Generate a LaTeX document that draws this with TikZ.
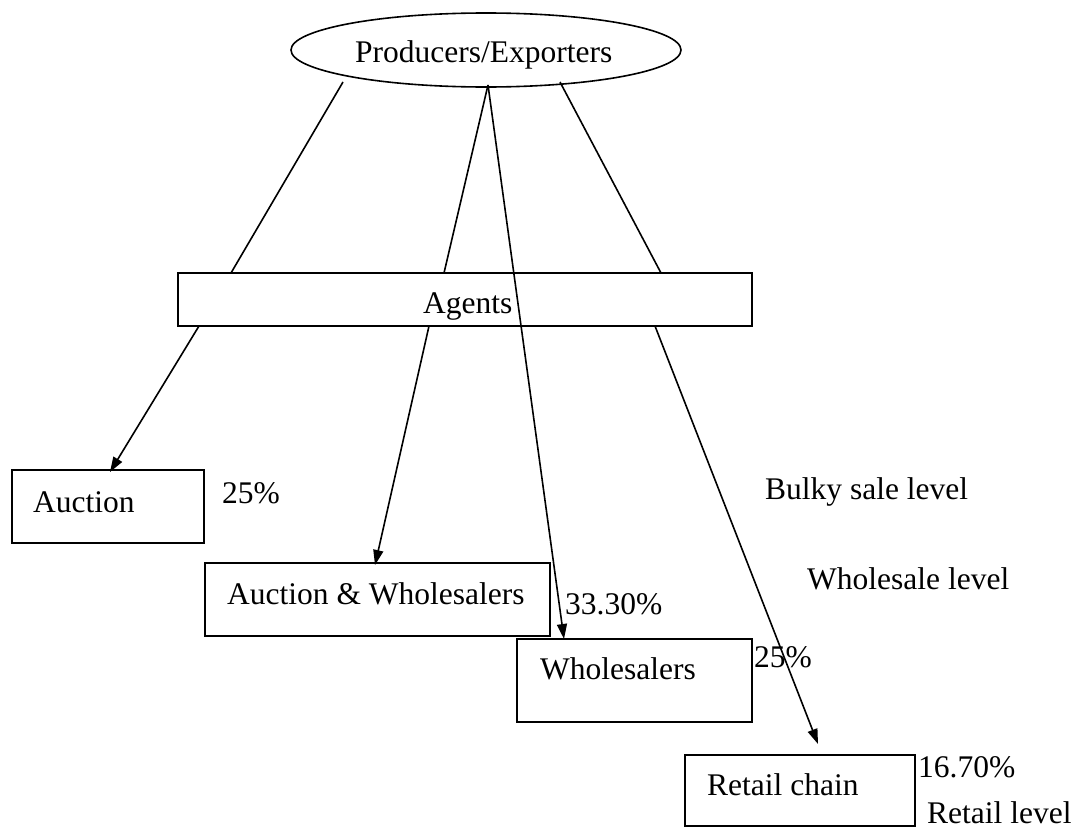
\documentclass[tikz,border=0pt]{standalone}
\usepackage{fontspec}
\setmainfont{Liberation Serif}
\usetikzlibrary{arrows.meta,shapes.geometric}
\begin{document}
\begin{tikzpicture}[x=1pt,y=-1pt,
  box/.style={draw, line width=1.6pt, inner sep=0pt, fill=white},
  lbl/.style={anchor=base west, inner sep=0pt, font=\fontsize{31.5}{36}\selectfont},
  link/.style={line width=1.6pt},
  arr/.style={line width=1.6pt, -{Triangle[length=15pt,width=10pt]}}]
\useasboundingbox (0,0) rectangle (1075,835);
% Producers ellipse
\node[draw, ellipse, line width=1.6pt, minimum width=390pt, minimum height=74pt, inner sep=0pt] (prod) at (486,50) {};
\node[lbl] (prodt) at (355,62) {Producers/Exporters};
% boxes
\node[box, minimum width=574pt, minimum height=53pt] (agents) at (465,299.5) {};
\node[box, minimum width=192pt, minimum height=73pt] (auction) at (108,506.5) {};
\node[box, minimum width=345pt, minimum height=73pt] (aw) at (377.5,599.5) {};
\node[box, minimum width=235pt, minimum height=83pt] (whole) at (634.5,680.5) {};
\node[box, minimum width=230pt, minimum height=71pt] (retail) at (800,790.5) {};
% labels
\node[lbl] (agentst) at (423,313) {Agents};
\node[lbl] (auctiont) at (33,512) {Auction};
\node[lbl] (awt) at (227,604) {Auction \& Wholesalers};
\node[lbl] (wholet) at (540,679) {Wholesalers};
\node[lbl] (retailt) at (707,795) {Retail chain};
\node[lbl] (p1) at (222,503) {25\%};
\node[lbl] (p2) at (565,614) {33.30\%};
\node[lbl] (p3) at (754,667) {25\%};
\node[lbl] (p4) at (918,777) {16.70\%};
\node[lbl] (lev1) at (765,499) {Bulky sale level};
\node[lbl] (lev2) at (807,589) {Wholesale level};
\node[lbl] (lev3) at (927,823) {Retail level};
% connector points
\coordinate (s1) at (343,82);
\coordinate (s2) at (488,85);
\coordinate (s4) at (560,82);
\coordinate (a1t) at (231,273);
\coordinate (a1b) at (199,326);
\coordinate (a2t) at (444,273);
\coordinate (a2b) at (429,326);
\coordinate (a4t) at (661,273);
\coordinate (a4b) at (655,326);
\coordinate (e1) at (110,472);
\coordinate (e2) at (375,565);
\coordinate (e3) at (564,639);
\coordinate (e4) at (818,744);
% connectors
\draw[link] (s1) -- (a1t);
\draw[arr] (a1b) -- (e1);
\draw[link] (s2) -- (a2t);
\draw[arr] (a2b) -- (e2);
\draw[arr] (s2) -- (e3);
\draw[link] (s4) -- (a4t);
\draw[arr] (a4b) -- (e4);
\end{tikzpicture}
\end{document}
